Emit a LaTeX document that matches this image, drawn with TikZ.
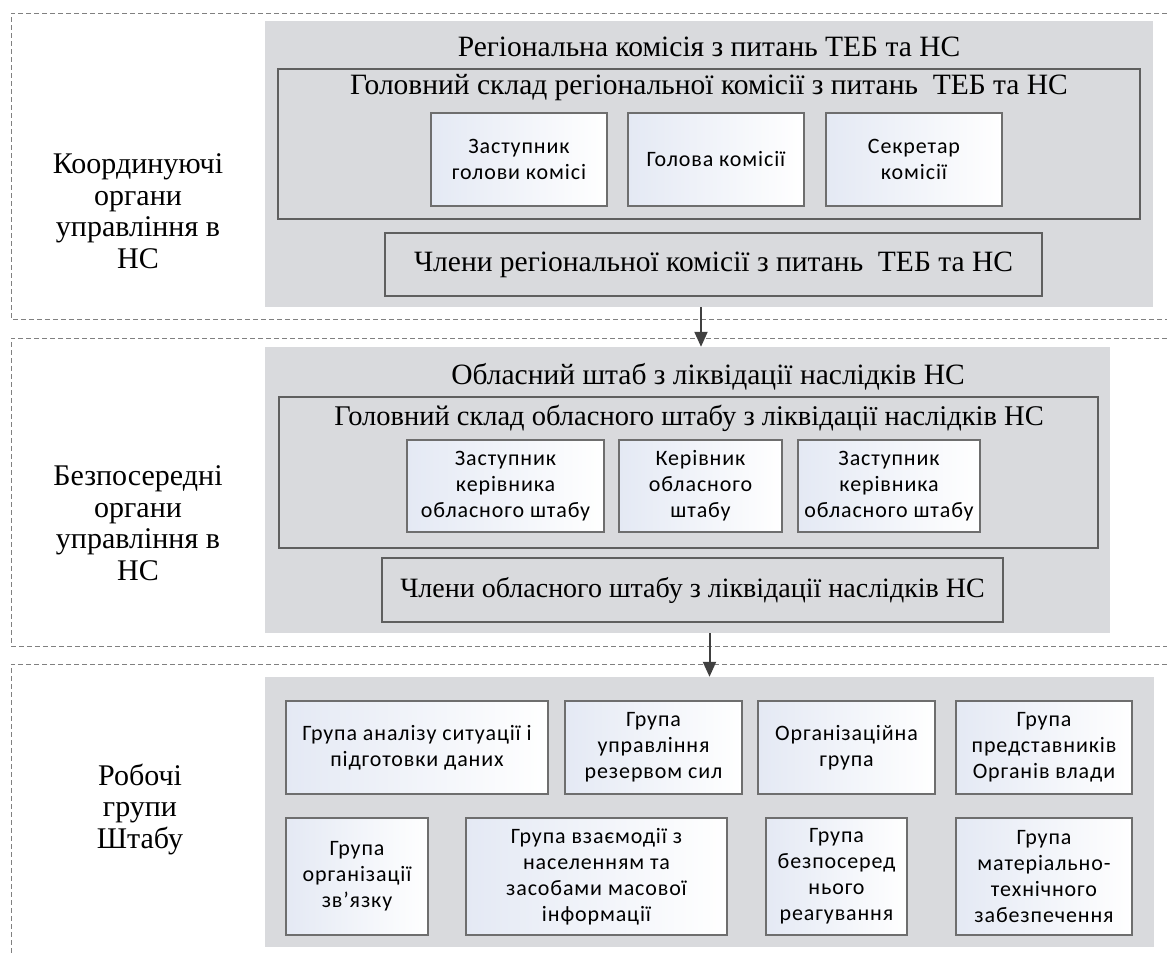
\documentclass[tikz,border=0pt]{standalone}
\usepackage{fontspec}
\setmainfont{Liberation Serif}
\newfontfamily\boxfont[LetterSpace=4]{Carlito}
\usetikzlibrary{arrows.meta}
\definecolor{panelgray}{RGB}{217,218,221}
\definecolor{innerline}{RGB}{95,95,95}
\definecolor{boxline}{RGB}{110,110,110}
\definecolor{boxblue}{RGB}{228,233,244}
\definecolor{dashgray}{RGB}{128,128,128}
\definecolor{arrowgray}{RGB}{64,64,64}
\tikzset{
  panel/.style={draw=none, fill=panelgray, inner sep=0pt},
  innerbox/.style={draw=innerline, line width=1.6pt, fill=panelgray, inner sep=0pt},
  smallbox/.style={draw=boxline, line width=1.3pt, left color=boxblue, right color=white, inner sep=0pt, align=center, font=\boxfont\fontsize{22}{26}\selectfont},
  titletext/.style={inner sep=0pt, font=\fontsize{29.5}{31}\selectfont},
  sidetext/.style={inner sep=0pt, align=center, font=\fontsize{30}{31.5}\selectfont},
  bandline/.style={draw=dashgray, line width=0.8pt, dash pattern=on 5pt off 3pt},
  arr/.style={draw=arrowgray, line width=2pt, -{Triangle[length=15pt,width=13pt]}}
}
\begin{document}
\begin{tikzpicture}[x=1pt,y=-1pt]
\useasboundingbox (0,0) rectangle (1167,954);
\fill[white] (0,0) rectangle (1167,954);
% bands
\draw[bandline] (1167,13) -- (11,13) -- (11,319) -- (1167,319);
\draw[bandline] (1167,338) -- (11,338) -- (11,646) -- (1167,646);
\draw[bandline] (1167,664) -- (11,664) -- (11,954);
% side labels
\node[sidetext] (L1) at (138,211) {Координуючі\\органи\\управління в\\НС};
\node[sidetext] (L2) at (138,523) {Безпосередні\\органи\\управління в\\НС};
\node[sidetext] (L3) at (140,809) {Робочі\\групи\\Штабу};
% panel 1
\node[panel, minimum width=888pt, minimum height=286pt] (p1) at (709,164) {};
\node[innerbox, minimum width=862pt, minimum height=150pt] (g1) at (709,144) {};
\node[titletext] (t1) at (709,47) {Регіональна комісія з питань ТЕБ та НС};
\node[titletext] (t1b) at (709,88) {Головний склад регіональної комісії з питань\ \ ТЕБ та НС};
\node[smallbox, minimum width=176pt, minimum height=93pt] (s11) at (519,159.5) {Заступник\\голови комісі};
\node[smallbox, minimum width=176pt, minimum height=93pt] (s12) at (716,159.5) {Голова комісії};
\node[smallbox, minimum width=176pt, minimum height=93pt] (s13) at (914,159.5) {Секретар\\комісії};
\node[innerbox, minimum width=657pt, minimum height=63pt, font=\fontsize{29.5}{31}\selectfont] (m1) at (713.5,264.5) {Члени регіональної комісії з питань\ \ ТЕБ та НС};
% panel 2
\node[panel, minimum width=845pt, minimum height=286pt] (p2) at (687.5,490) {};
\node[innerbox, minimum width=819pt, minimum height=151pt] (g2) at (688.5,472.5) {};
\node[titletext] (t2) at (708,377) {Обласний штаб з ліквідації наслідків НС};
\node[titletext, font=\fontsize{28.5}{31}\selectfont] (t2b) at (689,418) {Головний склад обласного штабу з ліквідації наслідків НС};
\node[smallbox, minimum width=197pt, minimum height=92pt] (s21) at (505.5,486) {Заступник\\керівника\\обласного штабу};
\node[smallbox, minimum width=163pt, minimum height=92pt] (s22) at (700.5,486) {Керівник\\обласного\\штабу};
\node[smallbox, minimum width=182pt, minimum height=92pt] (s23) at (889,486) {Заступник\\керівника\\обласного штабу};
\node[innerbox, minimum width=621pt, minimum height=64pt, font=\fontsize{28}{31}\selectfont] (m2) at (692.5,590) {Члени обласного штабу з ліквідації наслідків НС};
% panel 3
\node[panel, minimum width=889pt, minimum height=270pt] (p3) at (709.5,812) {};
\node[smallbox, minimum width=262pt, minimum height=93pt] (wa) at (417,747.5) {Група аналізу ситуації і\\підготовки даних};
\node[smallbox, minimum width=177pt, minimum height=93pt] (wb) at (653.5,747.5) {Група\\управління\\резервом сил};
\node[smallbox, minimum width=177pt, minimum height=93pt] (wc) at (846.5,747.5) {Організаційна\\група};
\node[smallbox, minimum width=176pt, minimum height=93pt] (wd) at (1044,747.5) {Група\\представників\\Органів влади};
\node[smallbox, minimum width=142pt, minimum height=117pt] (we) at (357,876.5) {Група\\організації\\зв’язку};
\node[smallbox, minimum width=261pt, minimum height=117pt] (wf) at (596.5,876.5) {Група взаємодії з\\населенням та\\засобами масової\\інформації};
\node[smallbox, minimum width=141pt, minimum height=117pt] (wg) at (836.5,876.5) {Група\\безпосеред\\нього\\реагування};
\node[smallbox, minimum width=176pt, minimum height=117pt] (wh) at (1044,876.5) {Група\\матеріально-\\технічного\\забезпечення};
% arrows
\draw[arr] ([xshift=-8pt]p1.south) -- ([xshift=-8pt]p1.south |- p2.north);
\draw[arr] (p2.south -| p3.north) -- (p3.north);
\end{tikzpicture}
\end{document}
